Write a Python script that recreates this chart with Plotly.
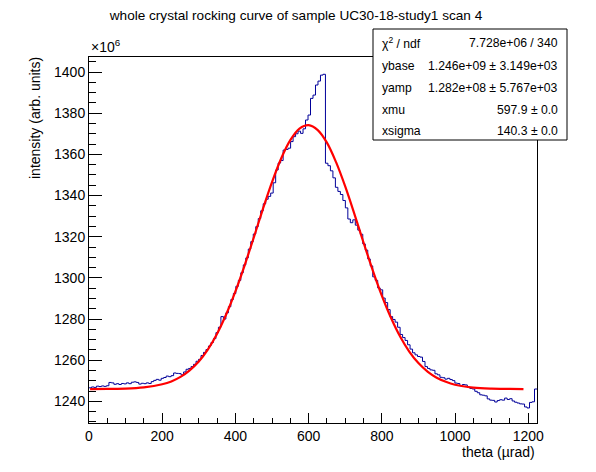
import numpy as np
import plotly.graph_objects as go

# === DATA (intensity in units of 1e6, theta in urad) ===
HIST_XMIN = 0.0
HIST_XMAX = 1224.0

counts = [
    1246.6, 1247.0, 1246.8, 1247.4, 1247.2, 1247.5, 1247.3, 1247.6, 1249.2, 1249.0,
    1248.3, 1248.6, 1248.2, 1248.7, 1248.5, 1249.0, 1248.6, 1249.3, 1249.5, 1249.2,
    1248.4, 1248.8, 1248.6, 1249.0, 1248.7, 1249.6, 1250.2, 1250.7, 1250.3, 1251.2,
    1251.6, 1252.3, 1252.0, 1252.5, 1253.8, 1253.6, 1253.5, 1252.9, 1254.3, 1255.6,
    1256.0, 1256.9, 1258.0, 1259.5, 1260.4, 1262.3, 1263.8, 1265.2, 1266.9, 1268.6,
    1270.5, 1273.4, 1276.0, 1281.2, 1280.0, 1283.0, 1286.0, 1289.5, 1292.4, 1295.9,
    1298.8, 1302.5, 1306.3, 1309.7, 1314.0, 1317.6, 1321.3, 1324.9, 1328.8, 1332.6,
    1336.0, 1338.2, 1339.6, 1341.2, 1346.2, 1352.4, 1355.8, 1357.0, 1362.1, 1362.4,
    1363.0, 1366.2, 1368.6, 1370.0, 1371.3, 1370.2, 1372.4, 1376.7, 1379.1, 1387.2,
    1388.8, 1393.7, 1395.6, 1398.5, 1398.9, 1355.7, 1354.5, 1352.0, 1348.6, 1344.0,
    1342.0, 1340.5, 1337.6, 1334.0, 1328.6, 1326.8, 1328.2, 1325.6, 1323.2, 1321.2,
    1316.5, 1313.5, 1309.2, 1305.8, 1300.5, 1298.8, 1295.1, 1294.2, 1290.2, 1288.0,
    1284.6, 1281.2, 1279.8, 1278.5, 1276.0, 1272.5, 1271.0, 1269.6, 1267.5, 1265.4,
    1263.6, 1262.6, 1261.8, 1261.5, 1259.4, 1256.9, 1256.0, 1255.3, 1255.1, 1253.4,
    1252.9, 1251.7, 1251.5, 1250.8, 1251.2, 1250.6, 1250.1, 1248.9, 1248.7, 1247.6,
    1248.2, 1248.0, 1246.9, 1246.3, 1246.0, 1244.9, 1244.2, 1243.2, 1243.0, 1242.7,
    1241.2, 1240.6, 1240.5, 1239.7, 1240.4, 1240.8, 1240.6, 1241.6, 1240.9, 1241.3,
    1240.2, 1239.6, 1239.2, 1238.8, 1238.7, 1237.3, 1236.8, 1239.5, 1239.8, 1246.0,
]

# fitted gaussian
fit_x = [3, 50, 100, 150, 200, 225, 250, 275, 300, 325, 350, 375, 400, 425,
         450, 475, 500, 525, 550, 575, 600, 625, 650, 675, 700, 725, 750,
         775, 800, 825, 850, 875, 900, 925, 950, 975, 1000, 1050, 1100,
         1150, 1187]
fit_y = [1246.0, 1246.1, 1246.2, 1246.8, 1248.3, 1249.7, 1251.9, 1255.1,
         1259.4, 1265.3, 1272.9, 1282.3, 1293.4, 1306.0, 1319.5, 1333.4,
         1346.5, 1358.0, 1366.9, 1372.5, 1374.2, 1371.8, 1365.7, 1356.2,
         1344.4, 1331.1, 1317.2, 1303.8, 1291.4, 1280.6, 1271.5, 1264.2,
         1258.6, 1254.5, 1251.5, 1249.5, 1248.1, 1246.7, 1246.2, 1246.1,
         1246.0]

stat_labels = ["χ<sup>2</sup> / ndf", "ybase", "yamp", "xmu", "xsigma"]
stat_values = ["7.728e+06 / 340", "1.246e+09 ± 3.149e+03",
               "1.282e+08 ± 5.767e+03", "597.9 ± 0.0", "140.3 ± 0.0"]

TITLE = "whole crystal rocking curve of sample UC30-18-study1 scan 4"
FONT = "Liberation Sans, Arial, Helvetica, sans-serif"

# === canvas geometry (ROOT-like), page has an 8px body margin ===
OFF = 8
W, H = 596 - 2 * OFF, 472 - 2 * OFF
FRAME_L, FRAME_R, FRAME_T, FRAME_B = 89, 537, 57, 423   # page pixels
ML, MT = FRAME_L - OFF, FRAME_T - OFF
MR, MB = OFF + W - FRAME_R, OFF + H - FRAME_B
PW, PH = FRAME_R - FRAME_L, FRAME_B - FRAME_T


def px_x(p):
    return (p - FRAME_L) / PW


def px_y(p):
    return (FRAME_B - p) / PH


edges = np.linspace(HIST_XMIN, HIST_XMAX, len(counts) + 1)
step_y = counts + [counts[-1]]

fig = go.Figure()
fig.add_trace(go.Scatter(
    x=edges, y=step_y, mode="lines", line_shape="hv",
    line=dict(color="#000099", width=1), showlegend=False,
))
fig.add_trace(go.Scatter(
    x=fit_x, y=fit_y, mode="lines", line_shape="spline",
    line=dict(color="#ff0000", width=2.2), showlegend=False,
))

axis_common = dict(
    showline=True, linecolor="black", linewidth=1, mirror=True,
    ticks="inside", tickcolor="black", showgrid=False, zeroline=False,
    tickfont=dict(family=FONT, size=14, color="black"),
)
fig.update_xaxes(
    range=[HIST_XMIN, HIST_XMAX], tick0=0, dtick=200, ticklen=10,
    minor=dict(ticks="inside", dtick=50, ticklen=5, tickcolor="black"),
    **axis_common,
)
fig.update_yaxes(
    range=[1229.5, 1407.3], tick0=0, dtick=20, ticklen=13,
    minor=dict(ticks="inside", dtick=5, ticklen=7, tickcolor="black"),
    **axis_common,
)

# stats box
shapes = [dict(
    type="rect", xref="paper", yref="paper",
    x0=px_x(373), x1=px_x(567), y0=px_y(140), y1=px_y(29),
    fillcolor="white", line=dict(color="black", width=1), layer="above",
)]

annotations = []
row_y = [43, 66, 88, 110, 131]
for lab, val, yy in zip(stat_labels, stat_values, row_y):
    annotations.append(dict(
        x=px_x(380), y=px_y(yy), xref="paper", yref="paper", text=lab,
        showarrow=False, xanchor="left", yanchor="middle",
        font=dict(family=FONT, size=12.2, color="black"),
    ))
    annotations.append(dict(
        x=px_x(560), y=px_y(yy), xref="paper", yref="paper", text=val,
        showarrow=False, xanchor="right", yanchor="middle",
        font=dict(family=FONT, size=12.2, color="black"),
    ))

# axis titles & exponent, placed ROOT-style
annotations.append(dict(
    x=px_x(35), y=px_y(55), xref="paper", yref="paper",
    text="intensity (arb. units)", textangle=-90, showarrow=False,
    xanchor="center", yanchor="top",
    font=dict(family=FONT, size=14, color="black"),
))
annotations.append(dict(
    x=px_x(537), y=px_y(452), xref="paper", yref="paper",
    text="theta (µrad)", showarrow=False, xanchor="right", yanchor="middle",
    font=dict(family=FONT, size=14, color="black"),
))
annotations.append(dict(
    x=0.0, y=1.0, xref="paper", yref="paper",
    text="×10<sup>6</sup>", showarrow=False, xanchor="left", yanchor="bottom",
    font=dict(family=FONT, size=14, color="black"),
))

fig.update_layout(
    width=W, height=H,
    margin=dict(l=ML, r=MR, t=MT, b=MB, pad=0),
    paper_bgcolor="white", plot_bgcolor="white",
    title=dict(text=TITLE, x=(296 - OFF) / W, xanchor="center",
               y=1.0 - 2 / H, yanchor="top", pad=dict(t=0, b=0),
               font=dict(family=FONT, size=13.6, color="black")),
    shapes=shapes, annotations=annotations,
)

fig.write_html("out.html")
